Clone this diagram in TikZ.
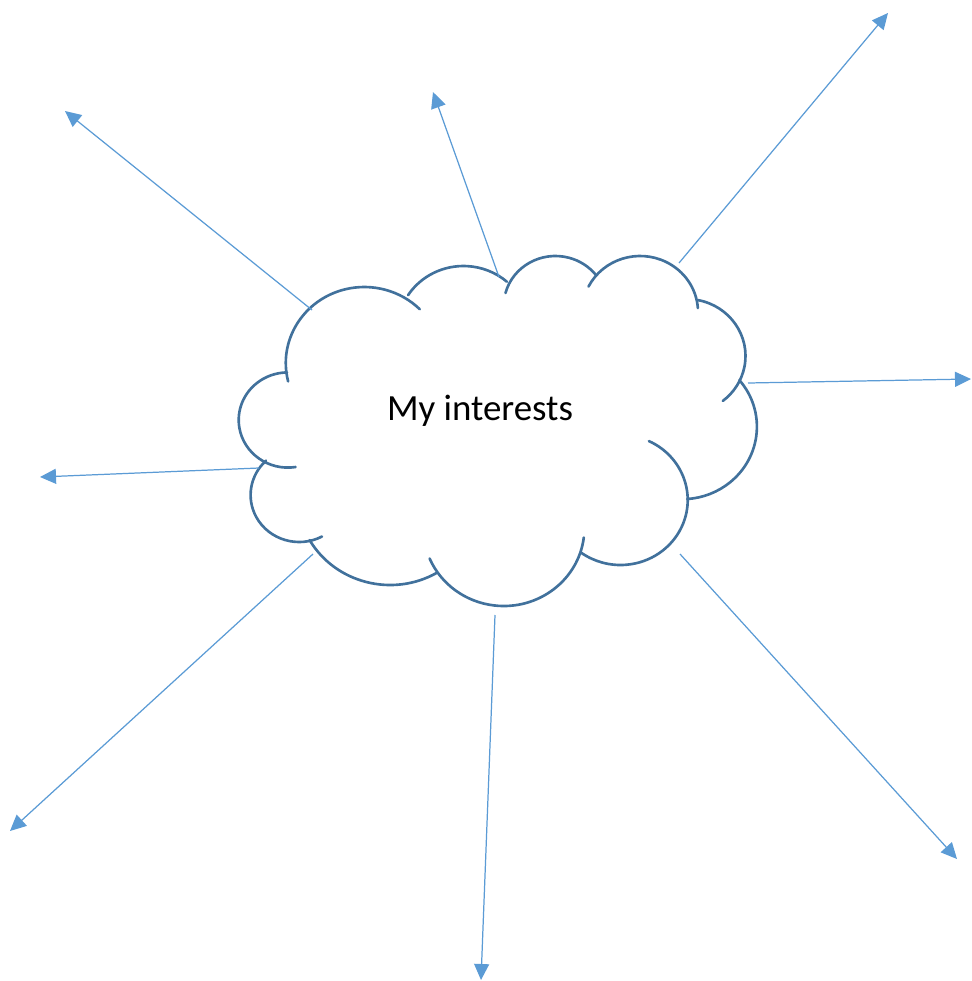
\documentclass[tikz,border=0pt]{standalone}
\usepackage{fontspec}
\setmainfont{Carlito}
\usetikzlibrary{arrows.meta}
\definecolor{cloudblue}{HTML}{41719C}
\definecolor{arrowblue}{HTML}{5B9BD5}

\begin{document}
\begin{tikzpicture}[x=0.02cm,y=-0.02cm,
	cloudline/.style={draw=cloudblue, line width=1.5pt, line cap=round},
	ray/.style={draw=arrowblue, line width=0.7pt, -{Triangle[length=0.32cm,width=0.3cm]}}]
	\useasboundingbox (0,0) rectangle (971,981);
	
	% cloud lobes: centre x / centre y / x radius / y radius / start / end
	\foreach \cx/\cy/\rx/\ry/\sa/\ea in {364.3/363/78.5/76/166/315, 463.5/330/66.1/64/213/311,
		555.4/306/51.7/50/195/322, 640.1/312/57.9/56/207/356, 686.6/356/58.9/57/281/412,
		682/426.7/74.9/72.5/320/446, 620.5/500/67.2/65/295/486, 503.8/528/80.6/78/7/157,
		390.1/495/93/90/60/150, 299.2/495/48.6/47/62/227, 287.9/420/49.2/47.6/81/269}
		\draw[cloudline] (\cx,\cy) ++(\sa:{\rx} and {\ry}) arc[start angle=\sa, end angle=\ea, x radius=\rx, y radius=\ry];
	
	\node[font=\fontsize{21}{25}\selectfont, anchor=base] (interests) at (480,420) {My interests};
	
	% ends of the rays
	\coordinate (nw-start) at (312,310);  \coordinate (nw-end) at (65,111);
	\coordinate (n-start) at (499,277);   \coordinate (n-end) at (433,92);
	\coordinate (ne-start) at (679,263);  \coordinate (ne-end) at (888,13);
	\coordinate (e-start) at (748,383);   \coordinate (e-end) at (971,379);
	\coordinate (w-start) at (259,468);   \coordinate (w-end) at (40,477);
	\coordinate (sw-start) at (313,554);  \coordinate (sw-end) at (10,831);
	\coordinate (s-start) at (495,615);   \coordinate (s-end) at (481,980);
	\coordinate (se-start) at (680,554);  \coordinate (se-end) at (957,859);
	
	\foreach \d in {nw,n,ne,e,w,sw,s,se}
		\draw[ray] (\d-start) -- (\d-end);
	
\end{tikzpicture}
\end{document}
